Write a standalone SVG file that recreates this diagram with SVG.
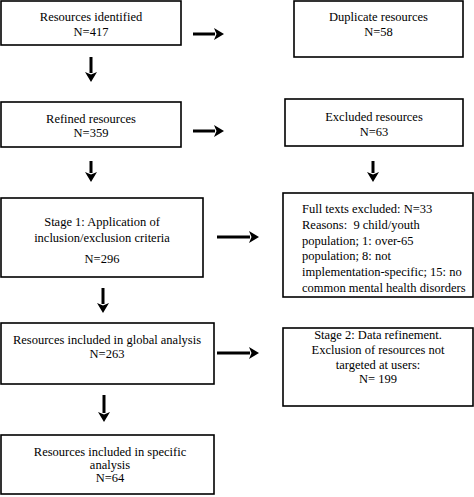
<svg xmlns="http://www.w3.org/2000/svg" width="474" height="497" viewBox="0 0 474 497">
<style>
.box{fill:#fff;stroke:#000;stroke-width:1.6}
text{font-family:"Liberation Serif","Times New Roman",serif;font-size:12.5px;fill:#000;white-space:pre}
.c{text-anchor:middle}
.conn{stroke:#000;stroke-width:3;fill:none;marker-end:url(#ah)}
</style>
<defs>
<marker id="ah" markerUnits="userSpaceOnUse" markerWidth="14" markerHeight="14" refX="1" refY="6" orient="auto">
<path d="M0,0 L10,6 L0,12 L2.5,6 Z" fill="#000"/>
</marker>
</defs>
<rect width="474" height="497" fill="#fff"/>
<g id="n1"><rect class="box" x="1" y="1" width="180" height="44"/><text class="c" x="91" y="21">Resources identified</text><text class="c" x="91" y="36">N=417</text></g>
<g id="n2"><rect class="box" x="294" y="1" width="169" height="56"/><text class="c" x="378.5" y="21">Duplicate resources</text><text class="c" x="378.5" y="36">N=58</text></g>
<g id="n3"><rect class="box" x="1" y="102" width="180" height="45"/><text class="c" x="91" y="123">Refined resources</text><text class="c" x="91" y="137">N=359</text></g>
<g id="n4"><rect class="box" x="285" y="99" width="178" height="47"/><text class="c" x="374" y="121">Excluded resources</text><text class="c" x="374" y="136">N=63</text></g>
<g id="n5"><rect class="box" x="1" y="198" width="202" height="79"/><text class="c" x="102" y="226">Stage 1: Application of</text><text class="c" x="102" y="242">inclusion/exclusion criteria</text><text class="c" x="102" y="263">N=296</text></g>
<g id="n6"><rect class="box" x="283" y="193" width="190" height="104"/>
<text x="302" y="213">Full texts excluded: N=33</text>
<text x="302" y="229">Reasons:  9 child/youth</text>
<text x="302" y="245">population; 1: over-65</text>
<text x="302" y="260">population; 8: not</text>
<text x="302" y="276">implementation-specific; 15: no</text>
<text x="302" y="292">common mental health disorders</text></g>
<g id="n7"><rect class="box" x="1" y="323" width="213" height="61"/><text class="c" x="107" y="344">Resources included in global analysis</text><text class="c" x="107" y="358">N=263</text></g>
<g id="n8"><rect class="box" x="283" y="328" width="190" height="78"/><text class="c" x="378" y="339">Stage 2: Data refinement.</text><text class="c" x="378" y="354">Exclusion of resources not</text><text class="c" x="378" y="369">targeted at users:</text><text class="c" x="378" y="383">N= 199</text></g>
<g id="n9"><rect class="box" x="1" y="435" width="213" height="59"/><text class="c" x="110" y="456">Resources included in specific</text><text class="c" x="110" y="469">analysis</text><text class="c" x="110" y="482">N=64</text></g>
<g id="connectors">
<line class="conn" x1="193" y1="34" x2="215" y2="34"/>
<line class="conn" x1="193" y1="131" x2="215" y2="131"/>
<line class="conn" x1="217" y1="237" x2="250" y2="237"/>
<line class="conn" x1="217" y1="353" x2="250" y2="353"/>
<line class="conn" x1="91" y1="57" x2="91" y2="73"/>
<line class="conn" x1="91" y1="161" x2="91" y2="173"/>
<line class="conn" x1="373" y1="161" x2="373" y2="173"/>
<line class="conn" x1="103" y1="288" x2="103" y2="304"/>
<line class="conn" x1="104" y1="395" x2="104" y2="413"/>
</g>
</svg>
